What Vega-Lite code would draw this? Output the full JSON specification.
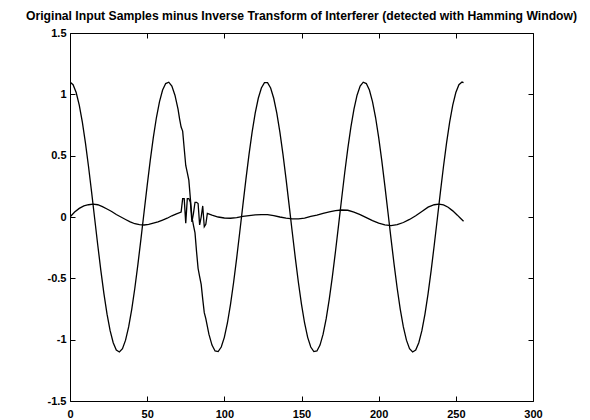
{
  "$schema": "https://vega.github.io/schema/vega-lite/v6.json",
  "autosize": {"type": "none"},
  "padding": {"left": 70, "top": 33, "right": 57, "bottom": 19},
  "width": 463,
  "height": 368,
  "background": "white",
  "title": {
    "text": "Original Input Samples minus Inverse Transform of Interferer (detected with Hamming Window)",
    "font": "Liberation Sans",
    "fontSize": 12.2,
    "fontWeight": "bold",
    "color": "black",
    "anchor": "middle",
    "offset": 5
  },
  "config": {
    "view": {"stroke": "black", "strokeWidth": 1},
    "axis": {
      "grid": false,
      "domain": false,
      "ticks": true,
      "tickColor": "black",
      "tickSize": -5,
      "tickWidth": 1,
      "labelFont": "Liberation Sans",
      "labelFontSize": 11,
      "labelFontWeight": "bold",
      "labelColor": "black",
      "titleFontSize": 0
    }
  },
  "datasets": {
    "d": [
      {"s":"a","x":0,"y":1.1},{"s":"a","x":2,"y":1.079},{"s":"a","x":4,"y":1.015},{"s":"a","x":6,"y":0.912},{"s":"a","x":8,"y":0.773},{"s":"a","x":10,"y":0.604},{"s":"a","x":12,"y":0.412},{"s":"a","x":14,"y":0.203},{"s":"a","x":16,"y":-0.014},{"s":"a","x":18,"y":-0.23},{"s":"a","x":20,"y":-0.437},{"s":"a","x":22,"y":-0.627},{"s":"a","x":24,"y":-0.792},{"s":"a","x":26,"y":-0.927},{"s":"a","x":28,"y":-1.025},{"s":"a","x":30,"y":-1.084},{"s":"a","x":32,"y":-1.1},{"s":"a","x":34,"y":-1.073},{"s":"a","x":36,"y":-1.004},{"s":"a","x":38,"y":-0.896},{"s":"a","x":40,"y":-0.753},{"s":"a","x":42,"y":-0.581},{"s":"a","x":44,"y":-0.386},{"s":"a","x":46,"y":-0.176},{"s":"a","x":48,"y":0.041},{"s":"a","x":50,"y":0.256},{"s":"a","x":52,"y":0.461},{"s":"a","x":54,"y":0.649},{"s":"a","x":56,"y":0.811},{"s":"a","x":58,"y":0.941},{"s":"a","x":60,"y":1.035},{"s":"a","x":62,"y":1.088},
      {"s":"a","x":64,"y":1.099},{"s":"a","x":66,"y":1.067},{"s":"a","x":68,"y":0.993},{"s":"a","x":70,"y":0.88},{"s":"a","x":71,"y":0.8},{"s":"a","x":72,"y":0.733},{"s":"a","x":73,"y":0.7},{"s":"a","x":74,"y":0.558},{"s":"a","x":75,"y":0.42},{"s":"a","x":76,"y":0.361},{"s":"a","x":77,"y":0.3},{"s":"a","x":78,"y":0.149},{"s":"a","x":79,"y":0.0},{"s":"a","x":80,"y":-0.068},{"s":"a","x":81,"y":-0.13},{"s":"a","x":82,"y":-0.283},{"s":"a","x":83,"y":-0.42},{"s":"a","x":84,"y":-0.486},{"s":"a","x":85,"y":-0.55},{"s":"a","x":86,"y":-0.67},{"s":"a","x":87,"y":-0.78},{"s":"a","x":88,"y":-0.829},{"s":"a","x":90,"y":-0.955},{"s":"a","x":92,"y":-1.044},{"s":"a","x":94,"y":-1.092},{"s":"a","x":96,"y":-1.097},{"s":"a","x":98,"y":-1.06},{"s":"a","x":100,"y":-0.981},{"s":"a","x":102,"y":-0.864},{"s":"a","x":104,"y":-0.713},{"s":"a","x":106,"y":-0.534},{"s":"a","x":108,"y":-0.335},{"s":"a","x":110,"y":-0.122},{"s":"a","x":112,"y":0.095},{"s":"a","x":114,"y":0.309},{"s":"a","x":116,"y":0.51},{"s":"a","x":118,"y":0.692},{"s":"a","x":120,"y":0.847},{"s":"a","x":122,"y":0.968},{"s":"a","x":124,"y":1.052},{"s":"a","x":126,"y":1.095},
      {"s":"a","x":128,"y":1.095},{"s":"a","x":130,"y":1.052},{"s":"a","x":132,"y":0.968},{"s":"a","x":134,"y":0.847},{"s":"a","x":136,"y":0.692},{"s":"a","x":138,"y":0.51},{"s":"a","x":140,"y":0.309},{"s":"a","x":142,"y":0.095},{"s":"a","x":144,"y":-0.122},{"s":"a","x":146,"y":-0.335},{"s":"a","x":148,"y":-0.534},{"s":"a","x":150,"y":-0.713},{"s":"a","x":152,"y":-0.864},{"s":"a","x":154,"y":-0.981},{"s":"a","x":156,"y":-1.06},{"s":"a","x":158,"y":-1.097},{"s":"a","x":160,"y":-1.092},{"s":"a","x":162,"y":-1.044},{"s":"a","x":164,"y":-0.955},{"s":"a","x":166,"y":-0.829},{"s":"a","x":168,"y":-0.67},{"s":"a","x":170,"y":-0.486},{"s":"a","x":172,"y":-0.283},{"s":"a","x":174,"y":-0.068},{"s":"a","x":176,"y":0.149},{"s":"a","x":178,"y":0.361},{"s":"a","x":180,"y":0.558},{"s":"a","x":182,"y":0.733},{"s":"a","x":184,"y":0.88},{"s":"a","x":186,"y":0.993},{"s":"a","x":188,"y":1.067},{"s":"a","x":190,"y":1.099},
      {"s":"a","x":192,"y":1.088},{"s":"a","x":194,"y":1.035},{"s":"a","x":196,"y":0.941},{"s":"a","x":198,"y":0.811},{"s":"a","x":200,"y":0.649},{"s":"a","x":202,"y":0.461},{"s":"a","x":204,"y":0.256},{"s":"a","x":206,"y":0.041},{"s":"a","x":208,"y":-0.176},{"s":"a","x":210,"y":-0.386},{"s":"a","x":212,"y":-0.581},{"s":"a","x":214,"y":-0.753},{"s":"a","x":216,"y":-0.896},{"s":"a","x":218,"y":-1.004},{"s":"a","x":220,"y":-1.073},{"s":"a","x":222,"y":-1.1},{"s":"a","x":224,"y":-1.084},{"s":"a","x":226,"y":-1.025},{"s":"a","x":228,"y":-0.927},{"s":"a","x":230,"y":-0.792},{"s":"a","x":232,"y":-0.627},{"s":"a","x":234,"y":-0.437},{"s":"a","x":236,"y":-0.23},{"s":"a","x":238,"y":-0.014},{"s":"a","x":240,"y":0.203},{"s":"a","x":242,"y":0.412},{"s":"a","x":244,"y":0.604},{"s":"a","x":246,"y":0.773},{"s":"a","x":248,"y":0.912},{"s":"a","x":250,"y":1.015},{"s":"a","x":252,"y":1.079},{"s":"a","x":254,"y":1.1},{"s":"a","x":255,"y":1.095},
      {"s":"b","x":0,"y":0.0},{"s":"b","x":3,"y":0.04},{"s":"b","x":6,"y":0.07},{"s":"b","x":9,"y":0.09},{"s":"b","x":12,"y":0.1},{"s":"b","x":15,"y":0.105},{"s":"b","x":18,"y":0.1},{"s":"b","x":21,"y":0.085},{"s":"b","x":24,"y":0.065},{"s":"b","x":27,"y":0.045},{"s":"b","x":30,"y":0.02},{"s":"b","x":33,"y":0.0},{"s":"b","x":36,"y":-0.02},{"s":"b","x":39,"y":-0.04},{"s":"b","x":42,"y":-0.055},{"s":"b","x":45,"y":-0.063},{"s":"b","x":48,"y":-0.065},{"s":"b","x":51,"y":-0.06},{"s":"b","x":54,"y":-0.05},{"s":"b","x":57,"y":-0.04},{"s":"b","x":60,"y":-0.025},{"s":"b","x":63,"y":-0.01},{"s":"b","x":66,"y":0.01},{"s":"b","x":69,"y":0.025},{"s":"b","x":72,"y":0.04},
      {"s":"b","x":73,"y":0.15},{"s":"b","x":74,"y":0.15},{"s":"b","x":75,"y":-0.05},{"s":"b","x":76,"y":0.15},{"s":"b","x":77,"y":0.15},{"s":"b","x":78,"y":0.12},{"s":"b","x":79,"y":-0.04},{"s":"b","x":80,"y":0.03},{"s":"b","x":81,"y":0.12},{"s":"b","x":82,"y":0.12},{"s":"b","x":83,"y":0.11},{"s":"b","x":84,"y":-0.065},{"s":"b","x":85,"y":0.0},{"s":"b","x":86,"y":0.09},{"s":"b","x":87,"y":-0.08},{"s":"b","x":88,"y":-0.06},{"s":"b","x":89,"y":0.03},
      {"s":"b","x":92,"y":0.015},{"s":"b","x":96,"y":0.0},{"s":"b","x":100,"y":-0.008},{"s":"b","x":104,"y":-0.01},{"s":"b","x":108,"y":-0.005},{"s":"b","x":112,"y":0.005},{"s":"b","x":116,"y":0.012},{"s":"b","x":120,"y":0.018},{"s":"b","x":124,"y":0.02},{"s":"b","x":128,"y":0.02},{"s":"b","x":132,"y":0.012},{"s":"b","x":136,"y":0.0},{"s":"b","x":140,"y":-0.01},{"s":"b","x":144,"y":-0.016},{"s":"b","x":148,"y":-0.016},{"s":"b","x":152,"y":-0.01},{"s":"b","x":156,"y":0.005},{"s":"b","x":160,"y":0.015},{"s":"b","x":164,"y":0.03},{"s":"b","x":168,"y":0.042},{"s":"b","x":172,"y":0.052},{"s":"b","x":176,"y":0.057},{"s":"b","x":180,"y":0.055},{"s":"b","x":184,"y":0.04},{"s":"b","x":188,"y":0.02},{"s":"b","x":192,"y":-0.005},{"s":"b","x":196,"y":-0.03},{"s":"b","x":200,"y":-0.05},{"s":"b","x":204,"y":-0.065},{"s":"b","x":208,"y":-0.07},{"s":"b","x":212,"y":-0.063},{"s":"b","x":216,"y":-0.045},{"s":"b","x":220,"y":-0.02},{"s":"b","x":224,"y":0.01},{"s":"b","x":228,"y":0.045},{"s":"b","x":232,"y":0.08},{"s":"b","x":236,"y":0.1},{"s":"b","x":239,"y":0.105},{"s":"b","x":242,"y":0.098},{"s":"b","x":245,"y":0.08},{"s":"b","x":248,"y":0.05},{"s":"b","x":251,"y":0.015},{"s":"b","x":253,"y":-0.01},{"s":"b","x":255,"y":-0.035}
    ]
  },
  "data": {"name": "d"},
  "layer": [
    {
      "mark": {"type": "line", "color": "black", "strokeWidth": 1.3, "clip": true},
      "encoding": {
        "x": {"field": "x", "type": "quantitative", "title": null,
              "scale": {"domain": [0, 300], "nice": false, "zero": false},
              "axis": {"orient": "bottom", "values": [0, 50, 100, 150, 200, 250, 300], "labelPadding": 12, "labelFlush": false}},
        "y": {"field": "y", "type": "quantitative", "title": null,
              "scale": {"domain": [-1.5, 1.5], "nice": false, "zero": false},
              "axis": {"orient": "left", "values": [-1.5, -1, -0.5, 0, 0.5, 1, 1.5], "labelExpr": "datum.value + ''", "labelPadding": 9}},
        "detail": {"field": "s", "type": "nominal"},
        "order": {"field": "x", "type": "quantitative"}
      }
    },
    {
      "mark": {"type": "line", "opacity": 0},
      "encoding": {
        "x": {"field": "x", "type": "quantitative", "title": null,
              "axis": {"orient": "top", "values": [0, 50, 100, 150, 200, 250, 300], "labels": false}},
        "y": {"field": "y", "type": "quantitative", "title": null,
              "axis": {"orient": "right", "values": [-1.5, -1, -0.5, 0, 0.5, 1, 1.5], "labels": false}},
        "detail": {"field": "s", "type": "nominal"}
      }
    }
  ],
  "resolve": {"axis": {"x": "independent", "y": "independent"}}
}
